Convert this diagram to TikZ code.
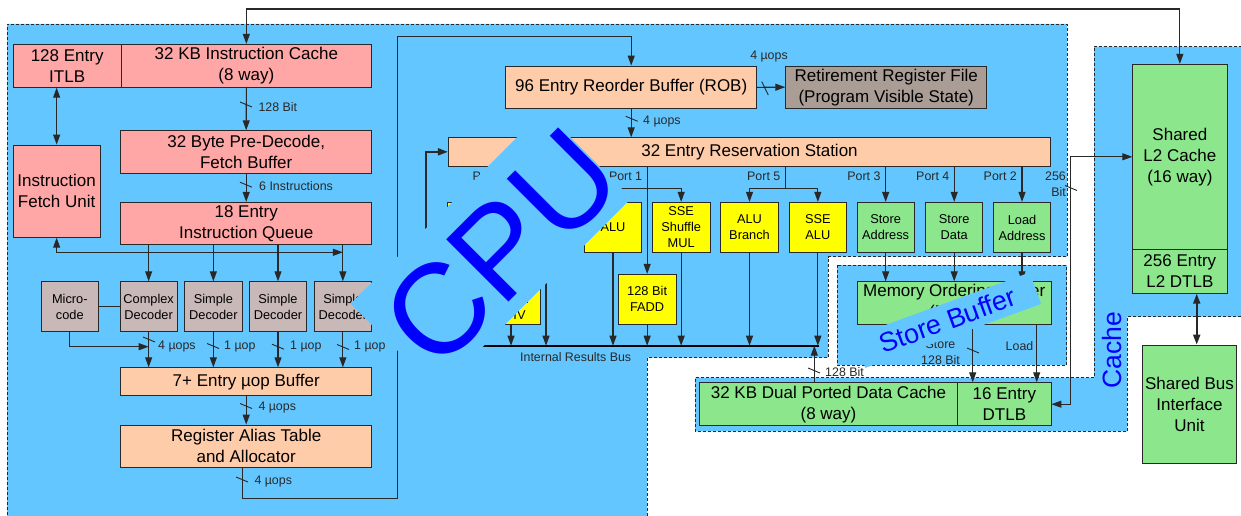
\documentclass[tikz,border=0pt]{standalone}
\usepackage{fontspec}
\setmainfont{Liberation Sans}
\usetikzlibrary{arrows.meta,calc}
\definecolor{bg}{RGB}{100,198,255}
\definecolor{pinkc}{RGB}{255,166,166}
\definecolor{peach}{RGB}{255,204,170}
\definecolor{decc}{RGB}{201,184,184}
\definecolor{rrfc}{RGB}{170,157,150}
\definecolor{yel}{RGB}{255,255,0}
\definecolor{grn}{RGB}{140,230,140}
\definecolor{bordc}{RGB}{40,40,40}
\definecolor{txtblue}{RGB}{0,0,255}
\newcommand{\fbig}{\fontsize{17}{21}\selectfont}
\newcommand{\fmed}{\fontsize{12.8}{16}\selectfont}
\newcommand{\fsm}{\fontsize{12.4}{16}\selectfont}
\newcommand{\bx}[7]{\node[#6, minimum width={#4-#2}, minimum height={#5-#3}] (#1) at ({(#2+#4)/2},{(#3+#5)/2}) {#7};}
\newcommand{\slsh}[2]{\draw[slashl] (#1,#2) ++(-6,-2.5) -- ++(12,5);}
\begin{document}
\begin{tikzpicture}[x=1pt,y=-1pt,
  unit/.style={draw=bordc, line width=0.8pt, inner sep=0pt, align=center},
  bigf/.style={font=\fbig},
  medf/.style={font=\fmed},
  pinkbox/.style={unit,bigf,fill=pinkc},
  peachbox/.style={unit,bigf,fill=peach},
  decbox/.style={unit,medf,fill=decc},
  rrfbox/.style={unit,bigf,fill=rrfc},
  yelbox/.style={unit,medf,fill=yel},
  grnbox/.style={unit,medf,fill=grn},
  grnbig/.style={unit,bigf,fill=grn},
  conn/.style={draw=bordc, line width=1.1pt},
  arr/.style={conn, -{Triangle[length=10pt,width=7pt]}},
  darr/.style={conn, {Triangle[length=10pt,width=7pt]}-{Triangle[length=10pt,width=7pt]}},
  lab/.style={font=\fsm, inner sep=0pt, text=bordc},
  region/.style={draw=bordc, line width=0.8pt, dash pattern=on 3pt off 2pt},
  slashl/.style={draw=bordc, line width=0.9pt}
]
\useasboundingbox (0,0) rectangle (1241,516);
\clip (0,0) rectangle (1241,516);
% regions
\fill[bg] (7,24) -- (1067,24) -- (1067,256.7) -- (828,256.7) -- (828,357.7) -- (647,357.7) -- (647,530) -- (7,530) -- cycle;
\draw[region] (7,530) -- (7,24) -- (1067,24) -- (1067,256.7) -- (828,256.7) -- (828,357.7) -- (647,357.7) -- (647,530);
\draw[region, fill=bg] (837,265) rectangle (1066.7,365);
\draw[region, fill=bg] (1094,46.7) -- (1250,46.7) -- (1250,316.7) -- (1127.3,316.7) -- (1127.3,431.3) -- (695,431.3) -- (695,377.7) -- (1094,377.7) -- cycle;
% boxes
\bx{itlb}{13.3}{44.3}{121}{87.3}{pinkbox}{128 Entry\\ITLB}
\bx{icache}{121}{44.3}{371.7}{87.3}{pinkbox}{32 KB Instruction Cache\\(8 way)}
\bx{ifu}{13.3}{145}{100}{237.3}{pinkbox}{Instruction\\Fetch Unit}
\bx{predec}{120.7}{130.7}{371.7}{173}{pinkbox}{32 Byte Pre-Decode,\\Fetch Buffer}
\bx{iq}{120.7}{202.3}{371.7}{244.7}{pinkbox}{18 Entry\\Instruction Queue}
\bx{mc}{41}{281.7}{98.7}{331.3}{decbox}{Micro-\\code}
\bx{cd}{120}{281.7}{177.3}{331.3}{decbox}{Complex\\Decoder}
\bx{sdA}{184.7}{281.7}{242}{331.3}{decbox}{Simple\\Decoder}
\bx{sdB}{249.3}{281.7}{306.7}{331.3}{decbox}{Simple\\Decoder}
\bx{sdC}{314}{281.7}{371.7}{331.3}{decbox}{Simple\\Decoder}
\bx{uopb}{120.7}{367.7}{371.7}{395.7}{peachbox}{7+ Entry µop Buffer}
\bx{rat}{120.7}{425}{371.7}{467.7}{peachbox}{Register Alias Table\\and Allocator}
\bx{rob}{505.7}{66}{756.7}{108.7}{peachbox}{96 Entry Reorder Buffer (ROB)}
\bx{rrf}{785.7}{66}{986.7}{108.3}{rrfbox}{Retirement Register File\\(Program Visible State)}
\bx{rs}{448.3}{137.7}{1050.7}{166}{peachbox}{32 Entry Reservation Station}
\bx{pzalu}{447}{202.3}{505}{252.3}{yelbox}{ALU}
\bx{pzsse}{517}{202.3}{575}{252.3}{yelbox}{SSE\\Shuffle\\ALU}
\bx{pzdiv}{482}{274.3}{540}{324.3}{yelbox}{128 Bit\\FMUL\\FDIV}
\bx{poalu}{584.3}{202.3}{641.7}{252.3}{yelbox}{ALU}
\bx{posse}{652.3}{202.3}{710}{252.3}{yelbox}{SSE\\Shuffle\\MUL}
\bx{fadd}{618.3}{274.3}{676}{324.3}{yelbox}{128 Bit\\FADD}
\bx{pfalu}{720.7}{202.3}{778.3}{252.3}{yelbox}{ALU\\Branch}
\bx{pfsse}{789}{202.3}{846.7}{252.3}{yelbox}{SSE\\ALU}
\bx{sta}{857}{202.3}{914.3}{252.7}{grnbox}{Store\\Address}
\bx{std}{925.7}{202.3}{982.7}{252.7}{grnbox}{Store\\Data}
\bx{lda}{993.3}{202.3}{1050.7}{252.7}{grnbox}{Load\\Address}
\bx{mob}{857.3}{281.7}{1051}{324.3}{grnbig}{Memory Ordering Buffer\\(MOB)}
\bx{dc}{699.3}{382.7}{957.7}{425.7}{grnbig}{32 KB Dual Ported Data Cache\\(8 way)}
\bx{dtlb}{957.7}{382.7}{1051}{425.7}{grnbig}{16 Entry\\DTLB}
\bx{ltwo}{1132.7}{64.3}{1227}{249.3}{grnbig}{Shared\\L2 Cache\\(16 way)}
\bx{ltlb}{1132.7}{249.3}{1227}{293.3}{grnbig}{256 Entry\\L2 DTLB}
\bx{sbiu}{1142.3}{345}{1236.7}{463.3}{grnbig}{Shared Bus\\Interface\\Unit}
% front end connectors
\coordinate (topy) at (0,9);
\draw[darr] (icache.north) -- (icache.north |- topy) -| (ltwo.north);
\draw[darr] (ifu.north) -- (ifu.north |- itlb.south);
\draw[arr] (icache.south) -- (predec.north);
\draw[arr] (predec.south) -- (iq.north);
\coordinate (iqline) at (0,252.3);
\draw[darr] (ifu.south) |- (sdC.north |- iqline);
\foreach \n in {cd,sdA,sdB,sdC} {
  \draw[arr] (\n.north |- iq.south) -- (\n.north);
  \draw[arr] (\n.south) -- (\n.south |- uopb.north);
}
\draw[conn] (mc.east) -- (cd.west);
\draw[arr] (mc.south) |- ($(cd.south)+(0,15)$);
\draw[arr] (uopb.south) -- (rat.north);
\coordinate (ratturn) at (397.3,498.3);
\coordinate (robturn) at (397.3,36.7);
\draw[arr] ([xshift=-4pt]rat.south) |- (ratturn) -- (robturn) -| (rob.north);
\draw[arr] (rob.east) -- (rrf.west);
\draw[arr] (rob.south) -- (rob.south |- rs.north);
% bus
\coordinate (busL) at (426,345.7);
\coordinate (busR) at (819.3,345.7);
\draw[line width=2.2pt, black] (busL) -- (busR);
\draw[conn, line width=1.8pt, -{Triangle[length=10pt,width=7pt]}] (busL) |- (rs.west);
% ports
\coordinate (bry) at (0,188.3);
\draw[arr] (pzdiv.north |- rs.south) -- (pzdiv.north);
\draw[conn] (pzalu.north |- bry) -- (pzsse.north |- bry);
\draw[arr] (pzalu.north |- bry) -- (pzalu.north);
\draw[arr] (pzsse.north |- bry) -- (pzsse.north);
\draw[arr] (fadd.north |- rs.south) -- (fadd.north);
\draw[conn] (poalu.north |- bry) -- (posse.north |- bry);
\draw[arr] (poalu.north |- bry) -- (poalu.north);
\draw[arr] (posse.north |- bry) -- (posse.north);
\coordinate (pfx) at (785.7,188.3);
\draw[conn] (rs.south -| pfx) -- (pfx);
\draw[conn] (pfalu.north |- bry) -- (pfsse.north |- bry);
\draw[arr] (pfalu.north |- bry) -- (pfalu.north);
\draw[arr] (pfsse.north |- bry) -- (pfsse.north);
\foreach \n in {sta,std,lda} {
  \draw[arr] (\n.north |- rs.south) -- (\n.north);
  \draw[arr] (\n.south) -- (\n.south |- mob.north);
}
\foreach \n in {pzalu,pzsse,pzdiv,poalu,posse,fadd,pfalu,pfsse} {
  \draw[arr] (\n.south) -- (\n.south |- busL);
}
\node[lab, anchor=east] (lpz) at (506,176) {Port 0};
\node[lab, anchor=east] (lpo) at (642.3,176) {Port 1};
\node[lab, anchor=east] (lpf) at (780.5,176) {Port 5};
\node[lab, anchor=east] (lpt) at (880.7,176) {Port 3};
\node[lab, anchor=east] (lpq) at (949.5,176) {Port 4};
\node[lab, anchor=east] (lpw) at (1017,176) {Port 2};
% memory
\coordinate (dcup) at (814.3,345.7);
\draw[arr] (dc.north -| dcup) -- (dcup);
\coordinate (stx) at (972.7,0);
\coordinate (ldx) at (1036.7,0);
\draw[arr] (mob.south -| stx) -- (dtlb.north -| stx);
\draw[arr] (mob.south -| ldx) -- (dtlb.north -| ldx);
\coordinate (vx) at (1070.7,0);
\draw[darr, line width=0.9pt] (dtlb.east) -- (dtlb.east -| vx) -- (ltwo.west -| vx) -- (ltwo.west);
\coordinate (sbx) at (1196.7,0);
\draw[darr, line width=2pt] (ltlb.south -| sbx) -- (sbiu.north -| sbx);
% labels and slashes
\slsh{246}{104.5}
\node[lab, anchor=west] (lbA) at (258.3,106.7) {128 Bit};
\slsh{246}{184.7}
\node[lab, anchor=west] (lbB) at (259,186) {6 Instructions};
\slsh{149}{339.5}
\node[lab, anchor=west] (lbC) at (158,346.7) {4 µops};
\slsh{213}{346}
\node[lab, anchor=west] (lbD) at (224,347) {1 µop};
\slsh{278}{346.7}
\node[lab, anchor=west] (lbE) at (290,347) {1 µop};
\slsh{343}{347}
\node[lab, anchor=west] (lbF) at (354,347) {1 µop};
\slsh{246}{406}
\node[lab, anchor=west] (lbG) at (258.3,407.7) {4 µops};
\slsh{242}{479.5}
\node[lab, anchor=west] (lbH) at (254.3,481.7) {4 µops};
\draw[slashl] (765,88.3) ++(-3.3,-6.7) -- ++(6.6,13.4);
\node[lab] (lbI) at (769,57) {4 µops};
\slsh{631.7}{118.8}
\node[lab, anchor=west] (lbJ) at (643,122) {4 µops};
\slsh{1071}{188}
\node[lab, align=right, anchor=east] (lbK) at (1066,184) {256\\Bit};
\slsh{973}{350.5}
\node[lab, align=center] (lbL) at (940.5,352) {Store\\128 Bit};
\node[lab] (lbM) at (1019.5,346) {Load};
\slsh{814}{370.5}
\node[lab, anchor=west] (lbN) at (825,372) {128 Bit};
\node[lab, anchor=west] (lbO) at (520,357) {Internal Results Bus};
% covers and big labels
\node[fill=bg, rotate=45, minimum width=273, minimum height=124, inner sep=0pt] (cpucov) at (491,251) {};
\node[rotate=45, text=txtblue, inner sep=0pt, font=\fontsize{128}{128}\selectfont] (cputxt) at (501,248) {CPU};
\node[fill=bg, rotate=20, minimum width=187, minimum height=33.4, inner sep=0pt] (sbcov) at (947.5,320.2) {};
\node[rotate=20, text=txtblue, inner sep=0pt, font=\fontsize{27}{27}\selectfont] (sbtxt) at (947.5,320.2) {Store Buffer};
\node[rotate=90, text=txtblue, inner sep=0pt, font=\fontsize{26.5}{26.5}\selectfont] (cachetxt) at (1112,350) {Cache};
\end{tikzpicture}
\end{document}
